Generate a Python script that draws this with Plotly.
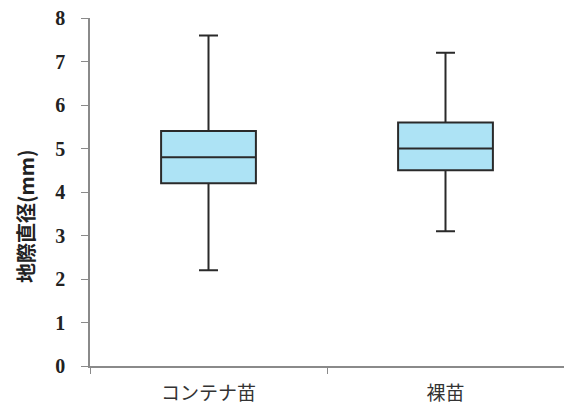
import plotly.graph_objects as go

categories = ["コンテナ苗", "裸苗"]
lower = [2.2, 3.1]
q1 = [4.2, 4.5]
median = [4.8, 5.0]
q3 = [5.4, 5.6]
upper = [7.6, 7.2]
y_ticks = [0, 1, 2, 3, 4, 5, 6, 7, 8]
y_title = "地際直径(mm)"

fig = go.Figure()
fig.add_trace(go.Box(
    x=categories, q1=q1, median=median, q3=q3,
    lowerfence=lower, upperfence=upper,
    boxpoints=False, width=0.4, whiskerwidth=0.2,
    fillcolor="#ADE3F5",
    line=dict(color="#2a2a2a", width=2),
    hoverinfo="skip", showlegend=False,
))

fig.update_layout(
    width=564, height=405,
    margin=dict(l=90, r=0, t=18, b=39),
    paper_bgcolor="white", plot_bgcolor="white",
    showlegend=False,
    annotations=[dict(
        text=y_title, textangle=-90, xref="paper", yref="paper",
        x=-0.137, y=0.431, xanchor="center", yanchor="middle",
        showarrow=False,
        font=dict(family="Noto Sans CJK JP", size=20, color="#222", weight="bold"),
    )],
)
fig.update_xaxes(
    type="category", range=[-0.5, 1.5], automargin=False,
    showline=True, linecolor="#8a8a8a", linewidth=1.5,
    ticks="outside", tickson="boundaries", ticklen=6, tickcolor="#8a8a8a",
    showgrid=False, zeroline=False,
    tickfont=dict(family="Noto Sans CJK JP", size=19, color="#333"),
    ticklabelstandoff=9,
)
fig.update_yaxes(
    range=[0, 8], tickvals=y_ticks, automargin=False,
    showline=True, linecolor="#8a8a8a", linewidth=1.5,
    ticks="outside", ticklen=7, tickcolor="#8a8a8a",
    showgrid=False, zeroline=False,
    tickfont=dict(family="Liberation Serif", size=20, color="#222", weight="bold"),
    ticklabelstandoff=12,
)

fig.write_html("out.html", config={"displayModeBar": False},
               post_script="document.body.style.margin='0px';")
